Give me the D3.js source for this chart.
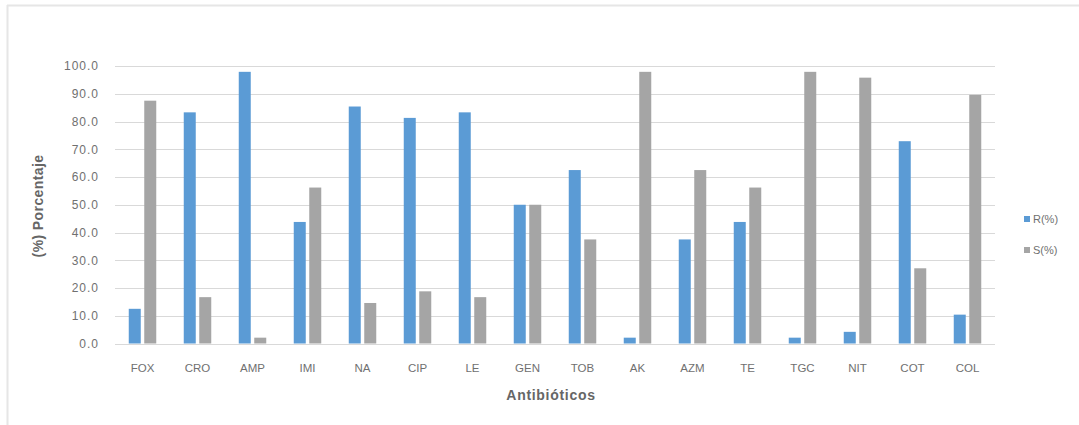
<!DOCTYPE html>
<html>
<head>
<meta charset="utf-8">
<script src="https://cdn.jsdelivr.net/npm/d3@7"></script>
<style>
  html, body { margin: 0; padding: 0; background: #fff; }
  svg { display: block; }
  text { font-family: "Liberation Sans", Arial, sans-serif; }
</style>
</head>
<body>
<svg id="chart" width="1079" height="425"></svg>
<script>
// Antibiotic resistance (R) and susceptibility (S) percentages
const antibiotics = ["FOX", "CRO", "AMP", "IMI", "NA", "CIP", "LE", "GEN", "TOB", "AK", "AZM", "TE", "TGC", "NIT", "COT", "COL"];
const resistant   = [12.5, 83.3, 97.9, 43.8, 85.4, 81.3, 83.3, 50.0, 62.5, 2.1, 37.5, 43.8, 2.1, 4.2, 72.9, 10.4];
const susceptible = [87.5, 16.7, 2.1, 56.2, 14.6, 18.8, 16.7, 50.0, 37.5, 97.9, 62.5, 56.2, 97.9, 95.8, 27.1, 89.6];
const seriesNames = ["R(%)", "S(%)"];
const yTicks = [0, 10, 20, 30, 40, 50, 60, 70, 80, 90, 100];
const xTitle = "Antibióticos";
const yTitle = "(%) Porcentaje";

const colors = ["#5b9bd5", "#a5a5a5"];
const series = [resistant, susceptible];

const svg = d3.select("#chart");
const margin = { left: 115, right: 84, top: 66, bottom: 81.5 };
const W = 1079, H = 425;

// chart frame
svg.append("line").attr("x1", 7).attr("x2", W).attr("y1", 5.5).attr("y2", 5.5)
  .attr("stroke", "#e6e6e6").attr("stroke-width", 2);
svg.append("line").attr("x1", 7.5).attr("x2", 7.5).attr("y1", 5).attr("y2", H)
  .attr("stroke", "#e6e6e6").attr("stroke-width", 2);

const x = d3.scaleBand().domain(antibiotics)
  .range([margin.left, W - margin.right]).paddingInner(0).paddingOuter(0);
const y = d3.scaleLinear().domain([0, 100]).range([H - margin.bottom, margin.top]);
const sub = d3.scaleBand().domain(d3.range(series.length))
  .range([0, x.bandwidth()]).paddingOuter(0.887).paddingInner(0.226);

// gridlines
svg.append("g").selectAll("line").data(yTicks).join("line")
  .attr("x1", margin.left).attr("x2", W - margin.right)
  .attr("y1", d => Math.round(y(d)) + 0.5).attr("y2", d => Math.round(y(d)) + 0.5)
  .attr("stroke", "#d9d9d9").attr("stroke-width", 1);

// y axis labels
const yAxis = d3.axisLeft(y).tickValues(yTicks).tickSize(0).tickPadding(0)
  .tickFormat(d3.format(".1f"));
svg.append("g").attr("transform", `translate(${margin.left - 16},0)`).call(yAxis)
  .call(g => g.select(".domain").remove())
  .call(g => g.selectAll("text").attr("fill", "#707070").attr("font-size", 12)
    .attr("letter-spacing", "1px")
    .attr("font-family", "Liberation Sans, Arial, sans-serif"));

// bars
series.forEach((vals, si) => {
  svg.append("g").selectAll("rect").data(antibiotics).join("rect")
    .attr("x", (d) => x(d) + sub(si))
    .attr("width", sub.bandwidth())
    .attr("y", (d, i) => y(vals[i]))
    .attr("height", (d, i) => y(0) - y(vals[i]))
    .attr("fill", colors[si]);
});

// x axis labels
const xAxis = d3.axisBottom(x).tickSize(0).tickPadding(0);
svg.append("g").attr("transform", `translate(0,${y(0) + 28.5})`).call(xAxis)
  .call(g => g.select(".domain").remove())
  .call(g => g.selectAll("text").attr("fill", "#707070").attr("font-size", 11.5)
    .attr("dy", "0")
    .attr("font-family", "Liberation Sans, Arial, sans-serif"));

// axis titles
svg.append("text").attr("x", 551).attr("y", 400).attr("text-anchor", "middle")
  .attr("font-size", 14).attr("font-weight", "bold").attr("fill", "#666")
  .attr("letter-spacing", "0.7px")
  .text(xTitle);
svg.append("text").attr("transform", "translate(43,206) rotate(-90)")
  .attr("text-anchor", "middle")
  .attr("font-size", 14).attr("font-weight", "bold").attr("fill", "#666")
  .attr("letter-spacing", "0.4px")
  .text(yTitle);

// legend
const legend = svg.append("g").selectAll("g").data(seriesNames).join("g")
  .attr("transform", (d, i) => `translate(1024,${216 + i * 31})`);
legend.append("rect").attr("width", 6).attr("height", 6)
  .attr("fill", (d, i) => colors[i]);
legend.append("text").attr("x", 9).attr("y", 3).attr("dy", "0.35em")
  .attr("font-size", 11).attr("fill", "#707070").text(d => d);
</script>
</body>
</html>
